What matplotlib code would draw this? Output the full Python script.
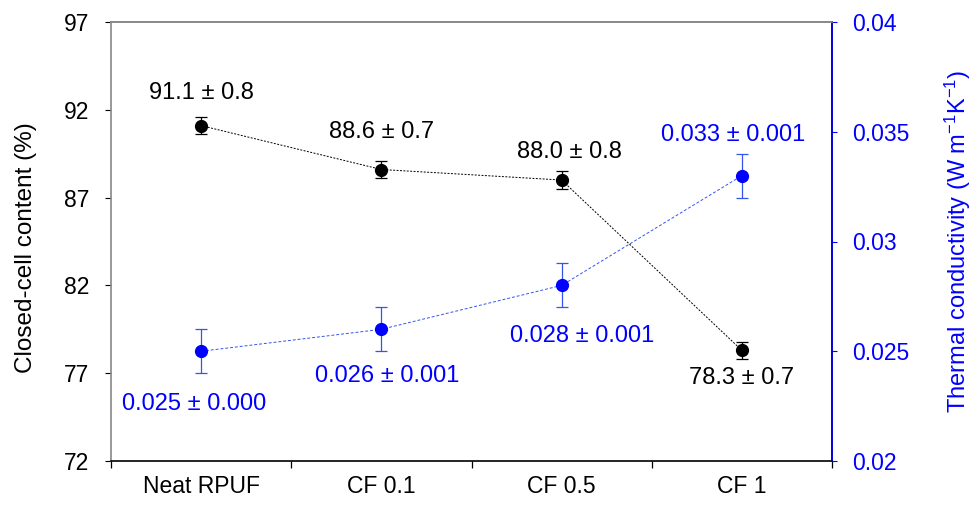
import matplotlib
matplotlib.use("Agg")
import matplotlib.pyplot as plt
from matplotlib.ticker import FixedLocator, NullFormatter

plt.rcParams['font.family'] = ['Liberation Sans', 'DejaVu Sans']
plt.rcParams['mathtext.fontset'] = 'custom'
plt.rcParams['mathtext.rm'] = 'Liberation Sans'
plt.rcParams['mathtext.default'] = 'regular'

samples = ["Neat RPUF", "CF 0.1", "CF 0.5", "CF 1"]
closed_cell = [91.1, 88.6, 88.0, 78.3]
closed_cell_sd = [0.8, 0.7, 0.8, 0.7]
closed_cell_bar = [0.5, 0.5, 0.5, 0.5]
conductivity = [0.025, 0.026, 0.028, 0.033]
conductivity_sd = [0.000, 0.001, 0.001, 0.001]
conductivity_bar = [0.001, 0.001, 0.001, 0.001]

# label offsets in pixels from each point
black_off = [(0, 33), (0, 38), (8, 28), (0, -28)]
blue_off = [(-7, -53), (6, -47), (20, -51), (-9, 41)]

blue = "#0000ff"
fs_ann = 17
fs_tick = 16.5

fig = plt.figure(figsize=(9.73, 5.05), dpi=100)
ax = fig.add_axes([111 / 973, 1 - 461 / 505, (832 - 111) / 973, (461 - 22) / 505])
ax2 = ax.twinx()

x = [i + 0.5 for i in range(len(samples))]

ax.errorbar(x, closed_cell, yerr=closed_cell_bar, color="black", marker="o", ms=8.5,
            ls=(0, (2, 1.5)), lw=0.7, elinewidth=0.9, capsize=4.5, capthick=0.9, ecolor="black", zorder=3)
ax2.errorbar(x, conductivity, yerr=conductivity_bar, color=blue, marker="o", ms=8.5,
             ls=(0, (3, 2)), lw=0.7, elinewidth=0.9, capsize=4.5, capthick=0.9,
             ecolor="#3355ee", zorder=3)
ax2.get_lines()[0].set_color("#3355ee")
ax2.get_lines()[0].set_markerfacecolor(blue)
ax2.get_lines()[0].set_markeredgecolor(blue)

for xi, v, s, off in zip(x, closed_cell, closed_cell_sd, black_off):
    ax.annotate(f"{v:.1f} ± {s:.1f}", (xi, v), xytext=off, textcoords="offset pixels",
                ha="center", va="center", fontsize=fs_ann, color="black")
for xi, v, s, off in zip(x, conductivity, conductivity_sd, blue_off):
    ax2.annotate(f"{v:.3f} ± {s:.3f}", (xi, v), xytext=off, textcoords="offset pixels",
                 ha="center", va="center", fontsize=fs_ann, color=blue)

ax.set_xlim(0, len(samples))
ax.set_ylim(72, 97)
ax.set_yticks([72, 77, 82, 87, 92, 97])
ax.set_xticks(x)
ax.set_xticklabels(samples, fontsize=fs_tick)
ax.tick_params(axis="x", which="major", length=0, pad=10)
ax.xaxis.set_minor_locator(FixedLocator([0, 1, 2, 3, 4]))
ax.xaxis.set_minor_formatter(NullFormatter())
ax.tick_params(axis="x", which="minor", length=5, direction="out", width=0.9)
ax.tick_params(axis="y", labelsize=fs_tick, length=4.5, direction="out", width=0.8, pad=11)
ax.set_ylabel("Closed-cell content (%)", fontsize=17.5)
ax.yaxis.set_label_coords(-(111 - 37) / 721, 0.485)

ax2.set_ylim(0.02, 0.04)
ax2.set_yticks([0.02, 0.025, 0.03, 0.035, 0.04])
ax2.set_yticklabels(["0.02", "0.025", "0.03", "0.035", "0.04"])
ax2.tick_params(axis="y", labelsize=fs_tick, length=3.5, direction="out", width=0.8,
                colors=blue, pad=11)
ax2.set_ylabel("Thermal conductivity (W m$^{-1}$K$^{-1}$)", fontsize=17, color=blue)
ax2.yaxis.set_label_coords(1 + (943 - 832) / 721, 0.5)

ax.spines["left"].set_color("#888888")
ax.spines["top"].set_color("#888888")
ax.spines["bottom"].set_color("black")
ax2.spines["left"].set_visible(False)
ax2.spines["top"].set_color("#888888")
ax2.spines["bottom"].set_visible(False)
ax2.spines["right"].set_color(blue)
for sp in ax.spines.values():
    sp.set_linewidth(1.2)
for sp in ax2.spines.values():
    sp.set_linewidth(1.2)

fig.savefig("out.png", dpi=100)
